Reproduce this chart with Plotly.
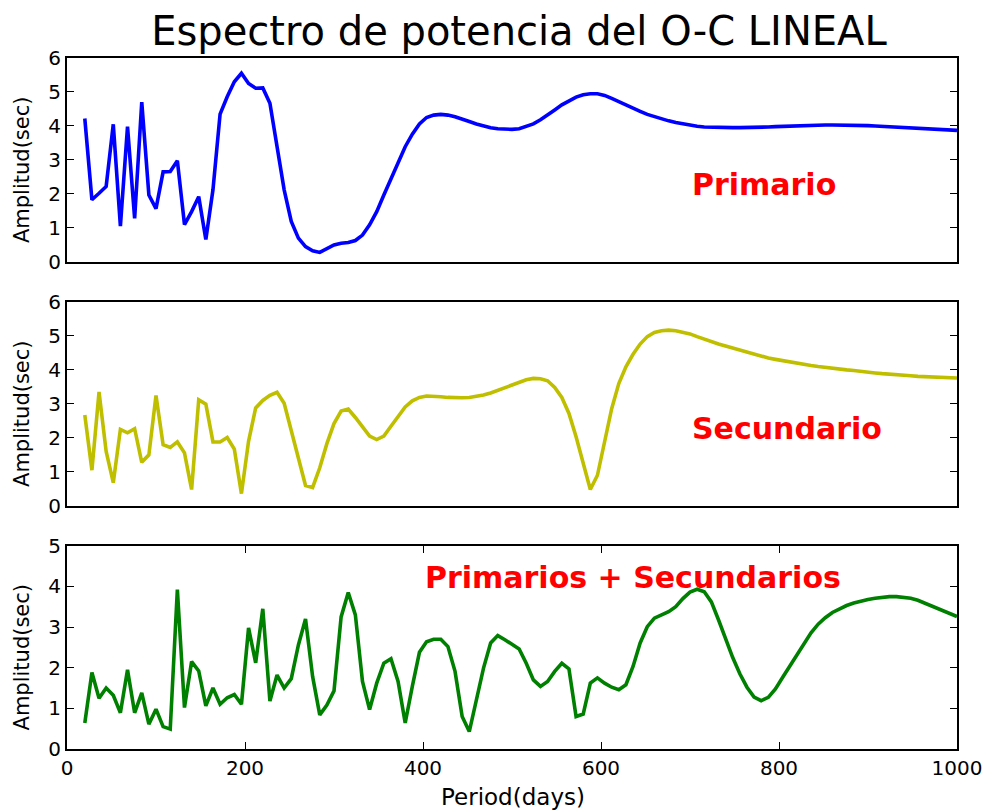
import plotly.graph_objects as go

# Period grid (days): 8-day steps, plus the 1000-day end point
periods = list(range(20, 1000, 8)) + [1000]

# Amplitude spectrum of the linear O-C, primary minima
amp_primario = [
    4.22, 1.83, 2.02, 2.22, 4.05, 1.05, 3.98, 1.28, 4.70, 1.97,
    1.57, 2.65, 2.66, 2.98, 1.10, 1.48, 1.92, 0.66, 2.12, 4.35,
    4.86, 5.30, 5.55, 5.25, 5.11, 5.12, 4.67, 3.40, 2.12, 1.19,
    0.70, 0.45, 0.33, 0.28, 0.40, 0.50, 0.55, 0.57, 0.63, 0.79,
    1.09, 1.48, 1.97, 2.46, 2.95, 3.39, 3.76, 4.06, 4.25, 4.32,
    4.34, 4.32, 4.27, 4.21, 4.13, 4.06, 4.00, 3.95, 3.92, 3.90,
    3.90, 3.92, 3.98, 4.06, 4.18, 4.31, 4.47, 4.62, 4.75, 4.85,
    4.92, 4.95, 4.95, 4.90, 4.81, 4.71, 4.61, 4.51, 4.43, 4.34,
    4.27, 4.21, 4.15, 4.10, 4.06, 4.02, 3.99, 3.97, 3.96, 3.95,
    3.95, 3.95, 3.95, 3.95, 3.96, 3.96, 3.97, 3.98, 3.99, 4.00,
    4.01, 4.02, 4.02, 4.03, 4.03, 4.03, 4.03, 4.03, 4.02, 4.02,
    4.01, 4.00, 3.99, 3.98, 3.97, 3.96, 3.95, 3.94, 3.93, 3.91,
    3.90, 3.89, 3.88, 3.87,
]

# Secondary minima
amp_secundario = [
    2.67, 1.05, 3.35, 1.60, 0.68, 2.25, 2.15, 2.27, 1.28, 1.50,
    3.25, 1.80, 1.72, 1.88, 1.56, 0.48, 3.12, 2.99, 1.88, 1.88,
    2.01, 1.67, 0.36, 1.90, 2.88, 3.10, 3.25, 3.34, 3.02, 2.23,
    1.34, 0.60, 0.54, 1.12, 1.83, 2.42, 2.79, 2.85, 2.60, 2.32,
    2.05, 1.95, 2.05, 2.34, 2.64, 2.91, 3.09, 3.19, 3.23, 3.23,
    3.21, 3.19, 3.18, 3.18, 3.19, 3.22, 3.26, 3.32, 3.40, 3.48,
    3.57, 3.65, 3.71, 3.75, 3.74, 3.68, 3.48, 3.19, 2.72, 2.03,
    1.25, 0.48, 0.90, 1.93, 2.86, 3.60, 4.09, 4.46, 4.76, 4.98,
    5.10, 5.15, 5.17, 5.15, 5.11, 5.06, 4.98, 4.90, 4.83, 4.76,
    4.70, 4.64, 4.58, 4.51, 4.45, 4.40, 4.35, 4.31, 4.27, 4.23,
    4.20, 4.16, 4.13, 4.10, 4.07, 4.04, 4.02, 4.00, 3.98, 3.95,
    3.93, 3.91, 3.89, 3.88, 3.86, 3.84, 3.83, 3.81, 3.80, 3.79,
    3.78, 3.77, 3.76, 3.76,
]

# Primary + secondary minima combined
amp_combinado = [
    0.64, 1.88, 1.25, 1.50, 1.32, 0.89, 1.95, 0.89, 1.38, 0.61,
    0.98, 0.55, 0.49, 3.92, 1.02, 2.15, 1.92, 1.06, 1.50, 1.10,
    1.26, 1.34, 1.10, 2.98, 2.12, 3.45, 1.18, 1.82, 1.50, 1.73,
    2.56, 3.20, 1.78, 0.84, 1.08, 1.43, 3.25, 3.85, 3.30, 1.66,
    0.97, 1.62, 2.11, 2.22, 1.66, 0.64, 1.54, 2.38, 2.64, 2.70,
    2.70, 2.52, 1.91, 0.80, 0.43, 1.17, 1.99, 2.61, 2.79, 2.69,
    2.57, 2.46, 2.11, 1.70, 1.54, 1.66, 1.91, 2.11, 1.97, 0.80,
    0.86, 1.62, 1.75, 1.62, 1.52, 1.46, 1.58, 2.03, 2.61, 3.01,
    3.22, 3.30, 3.38, 3.50, 3.70, 3.86, 3.93, 3.87, 3.62, 3.18,
    2.70, 2.25, 1.85, 1.52, 1.28, 1.19, 1.27, 1.48, 1.76, 2.04,
    2.32, 2.61, 2.86, 3.07, 3.23, 3.36, 3.45, 3.53, 3.59, 3.64,
    3.68, 3.71, 3.74, 3.75, 3.75, 3.74, 3.71, 3.66, 3.59, 3.51,
    3.44, 3.37, 3.29, 3.26,
]

panel_labels = ["Primario", "Secundario", "Primarios + Secundarios"]
label_pos = [(700, 2.29), (700, 2.29), (400, 4.21)]
y_ranges = [(0, 6), (0, 6), (0, 5)]
x_ticks = [0, 200, 400, 600, 800, 1000]
y_title = "Amplitud(sec)"
x_title = "Period(days)"

FONT = "DejaVu Sans"
W, H = 994, 812
M_L, M_R, M_T, M_B = 67, 35, 58, 63
series = [
    (amp_primario, "#0000ff"),
    (amp_secundario, "#bfbf00"),
    (amp_combinado, "#008000"),
]

fig = go.Figure()
for i, (vals, color) in enumerate(series):
    suffix = "" if i == 0 else str(i + 1)
    fig.add_trace(go.Scatter(
        x=periods, y=vals, mode="lines",
        line=dict(color=color, width=3.6),
        xaxis="x" + suffix, yaxis="y" + suffix,
        showlegend=False, hoverinfo="x+y",
    ))

# panel vertical domains (top, middle, bottom)
domains = [(0.7049, 1.0), (0.3519, 0.6470), (0.0, 0.2941)]

axis_common = dict(
    showline=True, linecolor="black", linewidth=1.8, mirror="allticks",
    ticks="inside", ticklen=7, tickwidth=1.2, tickcolor="black",
    showgrid=False, zeroline=False,
    tickfont=dict(family=FONT, size=20, color="black"),
)

plot_w = W - M_L - M_R
plot_h = H - M_T - M_B

layout = dict(
    width=W, height=H,
    margin=dict(l=M_L, r=M_R, t=M_T, b=M_B),
    paper_bgcolor="white", plot_bgcolor="white",
    title=dict(
        text="Espectro de potencia del O-C LINEAL",
        font=dict(family=FONT, size=40, color="black"),
        x=519 / W, xref="container", xanchor="center",
        y=1 - 31 / H, yref="container", yanchor="middle",
    ),
    annotations=[],
)

for i in range(3):
    suffix = "" if i == 0 else str(i + 1)
    is_bottom = i == 2
    xa = dict(axis_common)
    xa.update(
        range=[0, 1000], domain=[0, 1], anchor="y" + suffix,
        tickvals=x_ticks,
    )
    if not is_bottom:
        xa.update(showticklabels=False, ticks="", matches="x3")
    ya = dict(axis_common)
    lo, hi = y_ranges[i]
    ya.update(
        range=[lo, hi], domain=list(domains[i]), anchor="x" + suffix,
        tickvals=list(range(lo, hi + 1)),
    )
    layout["xaxis" + suffix] = xa
    layout["yaxis" + suffix] = ya

    # rotated y-axis label, sitting a little below the panel centre
    d0, d1 = domains[i]
    y_mid = (d0 + d1) / 2 - 10 / plot_h
    layout["annotations"].append(dict(
        text=y_title, textangle=-90,
        x=(22 - M_L) / plot_w, y=y_mid, xref="paper", yref="paper",
        xanchor="center", yanchor="middle", showarrow=False,
        font=dict(family=FONT, size=21, color="black"),
    ))

    lx, ly = label_pos[i]
    layout["annotations"].append(dict(
        text="<b>" + panel_labels[i] + "</b>",
        x=lx, y=ly, xref="x" + suffix, yref="y" + suffix,
        xanchor="left", yanchor="middle", showarrow=False,
        font=dict(family=FONT, size=30, color="#ff0000"),
    ))

# x-axis label under the bottom panel
layout["annotations"].append(dict(
    text=x_title,
    x=(514 - M_L) / plot_w, y=-(797 - (H - M_B)) / plot_h,
    xref="paper", yref="paper",
    xanchor="center", yanchor="middle", showarrow=False,
    font=dict(family=FONT, size=23, color="black"),
))

fig.update_layout(**layout)
fig.write_html("out.html")
